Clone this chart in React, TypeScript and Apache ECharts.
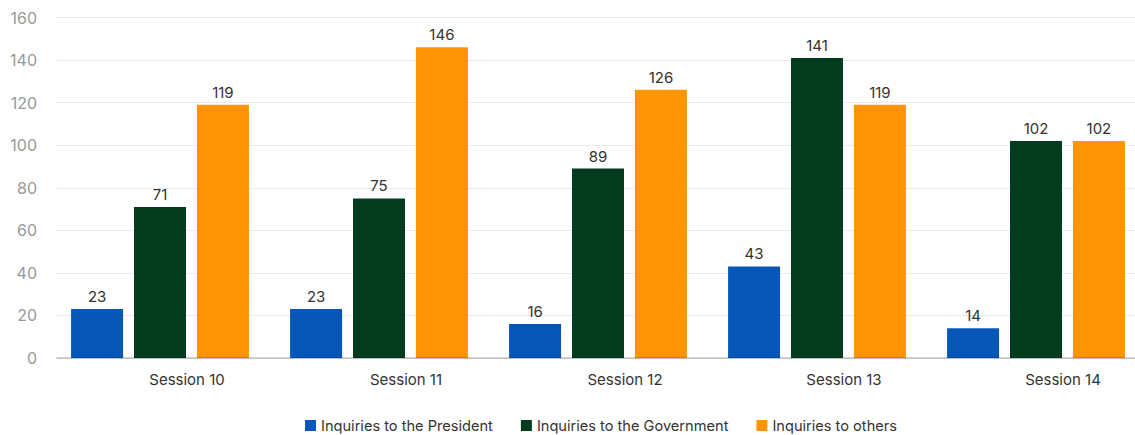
import React, { useEffect, useRef } from "react";
import * as echarts from "echarts";

const sessions = ["Session 10", "Session 11", "Session 12", "Session 13", "Session 14"];
const presidentInquiries = [23, 23, 16, 43, 14];
const governmentInquiries = [71, 75, 89, 141, 102];
const otherInquiries = [119, 146, 126, 119, 102];
const seriesNames = ["Inquiries to the President", "Inquiries to the Government", "Inquiries to others"];
const seriesColors = ["#0657B8", "#033B1F", "#FF9505"];

const FONT = "Inter, 'Noto Sans', sans-serif";
// The chart canvas is a bit wider than the visible frame so the last band can run past the edge.
const CANVAS_W = 1160;

export default function App() {
  const ref = useRef<HTMLDivElement>(null);

  useEffect(() => {
    if (!ref.current) return;
    const chart = echarts.init(ref.current, undefined, { renderer: "svg" });
    const values = [presidentInquiries, governmentInquiries, otherInquiries];

    chart.setOption({
      animation: false,
      textStyle: { fontFamily: FONT },
      legend: {
        top: 413,
        left: 300,
        icon: "rect",
        itemWidth: 11,
        itemHeight: 11,
        itemGap: 28,
        textStyle: { fontSize: 14.6, color: "#333", fontFamily: FONT },
        data: seriesNames,
      },
      grid: [
        { left: 50.5, width: 1095, top: 17.5, bottom: 77 },
        { left: 57, right: CANVAS_W - 1135, top: 17.5, bottom: 77 },
      ],
      xAxis: [
        {
          type: "category",
          gridIndex: 0,
          data: sessions,
          axisLine: { show: false },
          axisTick: { show: false },
          axisLabel: {
            fontSize: 15,
            color: "#333",
            margin: 14,
            padding: [0, 0, 0, 54],
            fontFamily: FONT,
          },
        },
        {
          type: "category",
          gridIndex: 1,
          data: sessions,
          z: 5,
          axisLine: { show: true, lineStyle: { color: "rgba(0,0,0,0.17)", width: 2 } },
          axisTick: { show: false },
          axisLabel: { show: false },
        },
      ],
      yAxis: [
        {
          type: "value",
          gridIndex: 0,
          min: 0,
          max: 160,
          interval: 20,
          show: false,
          splitLine: { show: false },
        },
        {
          type: "value",
          gridIndex: 1,
          min: 0,
          max: 160,
          interval: 20,
          axisLine: { show: false },
          axisTick: { show: false },
          axisLabel: { fontSize: 16, color: "#999", margin: 20, fontFamily: FONT },
          splitLine: { lineStyle: { color: "#E9E9E9", width: 1 } },
        },
      ],
      series: seriesNames.map((name, i) => ({
        name,
        type: "bar",
        xAxisIndex: 0,
        yAxisIndex: 0,
        data: values[i],
        barWidth: 52,
        barGap: "21%",
        itemStyle: { color: seriesColors[i] },
        label: {
          show: true,
          position: "top",
          distance: 5,
          fontSize: 15,
          color: "#333",
          fontFamily: FONT,
        },
      })),
    });

    return () => chart.dispose();
  }, []);

  return (
    <div
      style={{
        position: "fixed",
        left: 0,
        top: 0,
        width: 1135,
        height: 435,
        overflow: "hidden",
        background: "#fff",
      }}
    >
      <div ref={ref} style={{ width: CANVAS_W, height: 435 }} />
    </div>
  );
}
